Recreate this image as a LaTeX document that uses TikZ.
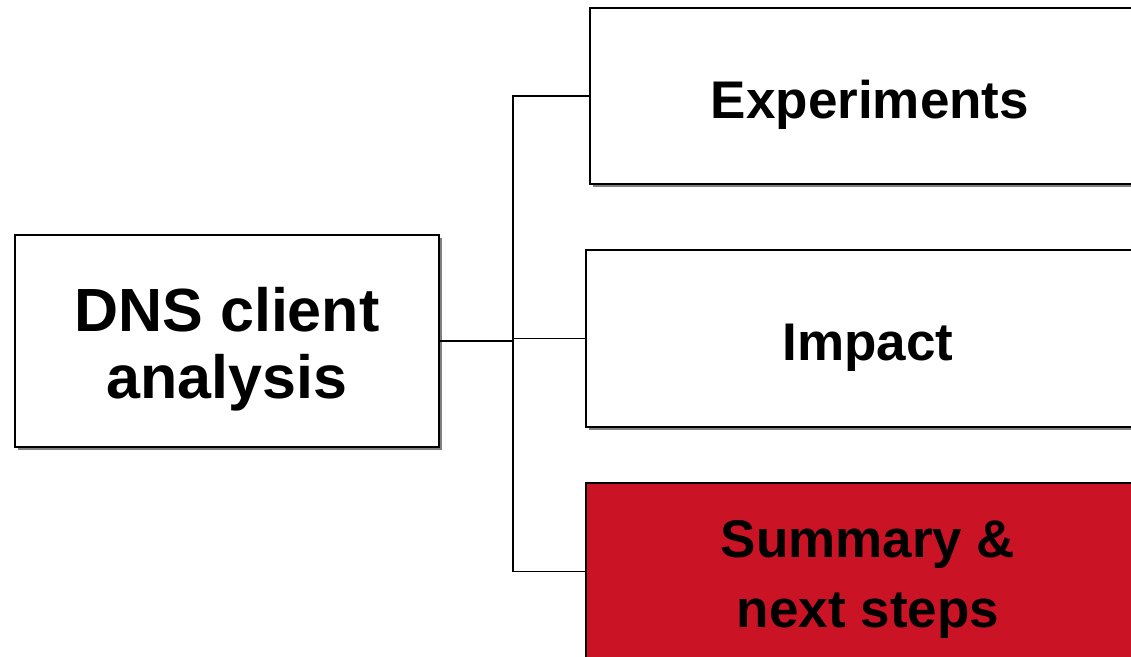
\documentclass[tikz,border=0pt]{standalone}
\usepackage{fontspec}
\setmainfont{Liberation Sans}
\usetikzlibrary{shadows}
\definecolor{boxred}{RGB}{203,19,38}
\definecolor{shadowgray}{RGB}{128,128,128}
\tikzset{
  box/.style={draw=black, line width=1.2pt, fill=white, inner sep=0pt,
    drop shadow={shadow xshift=2.5pt, shadow yshift=-2.5pt, fill=shadowgray, opacity=1}},
  redbox/.style={box, fill=boxred},
  txt/.style={align=center, inner sep=0pt, font=\bfseries\fontsize{53}{70}\selectfont},
  bigtxt/.style={align=center, inner sep=0pt, font=\bfseries\fontsize{61}{67}\selectfont},
  conn/.style={draw=black, line width=1.5pt}
}
\begin{document}
\begin{tikzpicture}[x=1pt,y=-1pt]
\useasboundingbox (0,0) rectangle (1131,656);
\clip (0,0) rectangle (1131,656);
\fill[white] (0,0) rectangle (1131,656);
\node[box, minimum width=424pt, minimum height=212pt] (dns) at (227,341) {};
\node[box, minimum width=560pt, minimum height=176pt] (exp) at (870,96) {};
\node[box, minimum width=564pt, minimum height=177pt] (imp) at (868,338.5) {};
\node[redbox, minimum width=564pt, minimum height=177pt] (sum) at (868,571.5) {};
\node[bigtxt, yshift=-8pt] (dnst) at (dns.center) {DNS client\\analysis};
\node[txt, yshift=-9pt] (expt) at (exp.center) {Experiments};
\node[txt, yshift=-9pt] (impt) at (imp.center) {Impact};
\node[txt, yshift=-8pt] (sumt) at (sum.center) {Summary \&\\next steps};
\coordinate (j) at (513,341);
\draw[conn] (dns.east) -- (j);
\draw[conn] (exp.west) -| (j);
\draw[conn] (imp.west) -| (j);
\draw[conn] (sum.west) -| (j);
\end{tikzpicture}
\end{document}
